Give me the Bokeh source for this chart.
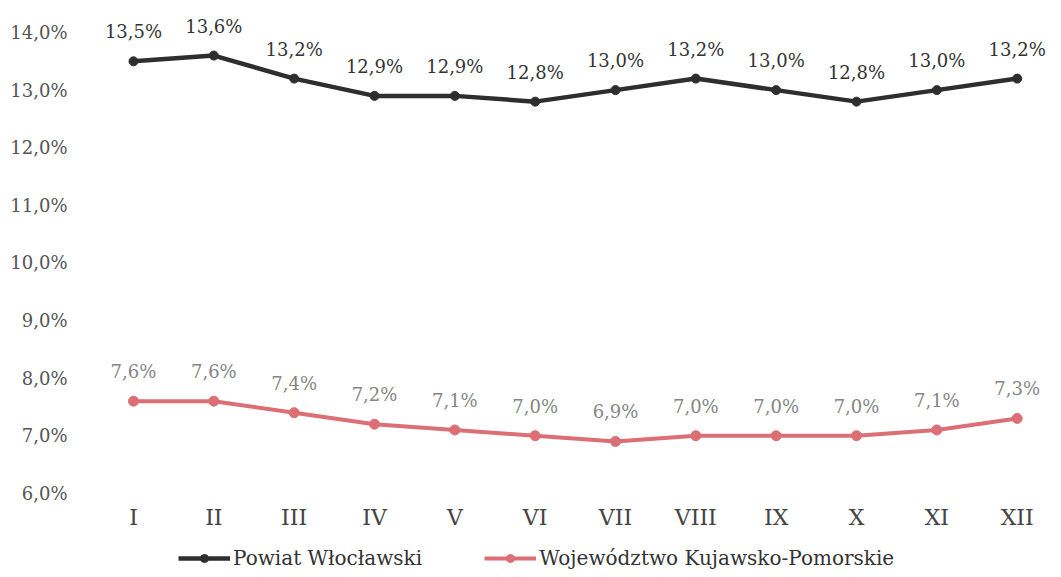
from bokeh.plotting import figure
from bokeh.models import ColumnDataSource, FixedTicker, Legend, LegendItem, Range1d
from bokeh.core.properties import value
from bokeh.embed import file_html
from bokeh.resources import INLINE

months = ["I", "II", "III", "IV", "V", "VI", "VII", "VIII", "IX", "X", "XI", "XII"]
powiat = [13.5, 13.6, 13.2, 12.9, 12.9, 12.8, 13.0, 13.2, 13.0, 12.8, 13.0, 13.2]
wojew = [7.6, 7.6, 7.4, 7.2, 7.1, 7.0, 6.9, 7.0, 7.0, 7.0, 7.1, 7.3]
y_ticks = [6, 7, 8, 9, 10, 11, 12, 13, 14]
y_tick_labels = ["6,0%", "7,0%", "8,0%", "9,0%", "10,0%", "11,0%", "12,0%", "13,0%", "14,0%"]
series_names = ["Powiat Włocławski", "Województwo Kujawsko-Pomorskie"]

FONT = "DejaVu Serif"
x = list(range(1, len(months) + 1))

def fmt(v):
    return ("%.1f" % v).replace(".", ",") + "%"

src_p = ColumnDataSource(dict(x=x, y=powiat, lab=[fmt(v) for v in powiat]))
src_w = ColumnDataSource(dict(x=x, y=wojew, lab=[fmt(v) for v in wojew]))

p = figure(frame_width=960, frame_height=562, output_backend="svg", toolbar_location=None,
           x_range=Range1d(0.44, 12.39), y_range=Range1d(4.66, 14.417))
p.min_border_top = 8
p.min_border_left = 88
p.min_border_right = 5
p.min_border_bottom = 0
p.outline_line_color = None
p.grid.visible = False
p.background_fill_color = "white"
p.border_fill_color = "white"

black = "#2e2e2e"
red = "#dc6f76"

l1 = p.line("x", "y", source=src_p, line_color=black, line_width=4.5)
m1 = p.scatter("x", "y", source=src_p, marker="circle", size=9, fill_color=black, line_color=black)
l2 = p.line("x", "y", source=src_w, line_color=red, line_width=4)
m2 = p.scatter("x", "y", source=src_w, marker="circle", size=10, fill_color=red, line_color=red)

p.text("x", "y", text="lab", source=src_p, text_align="center", text_baseline="bottom",
       y_offset=-19, text_font=value(FONT), text_font_size="18px", text_color="#333333")
p.text("x", "y", text="lab", source=src_w, text_align="center", text_baseline="bottom",
       y_offset=-19, text_font=value(FONT), text_font_size="18px", text_color="#858585")

p.yaxis.ticker = FixedTicker(ticks=y_ticks)
p.yaxis.major_label_overrides = {t: l for t, l in zip(y_ticks, y_tick_labels)}
p.xaxis.ticker = FixedTicker(ticks=x)
p.xaxis.major_label_overrides = {i: m for i, m in zip(x, months)}
p.xaxis.fixed_location = y_ticks[0]
p.xaxis.axis_line_color = None
p.yaxis.axis_line_color = None
p.xaxis.major_tick_line_color = None
p.yaxis.major_tick_line_color = None
p.xaxis.minor_tick_line_color = None
p.yaxis.minor_tick_line_color = None
p.xaxis.major_label_text_font = FONT
p.yaxis.major_label_text_font = FONT
p.xaxis.major_label_text_color = "#444444"
p.yaxis.major_label_text_color = "#555555"
p.yaxis.major_label_text_font_size = "18px"
p.xaxis.major_label_text_font_size = "22px"
p.xaxis.major_label_standoff = 6
p.yaxis.major_label_standoff = 15

legend = Legend(items=[LegendItem(label=series_names[0], renderers=[l1, m1]),
                       LegendItem(label=series_names[1], renderers=[l2, m2])],
                orientation="horizontal", location=(90, 0),
                label_text_font=FONT, label_text_font_size="20px", label_text_color="#333333",
                border_line_color=None, background_fill_alpha=0, spacing=62,
                glyph_width=52, label_standoff=3, margin=0, padding=3)
p.add_layout(legend, "center")

open("out.html", "w").write(file_html(p, INLINE))
